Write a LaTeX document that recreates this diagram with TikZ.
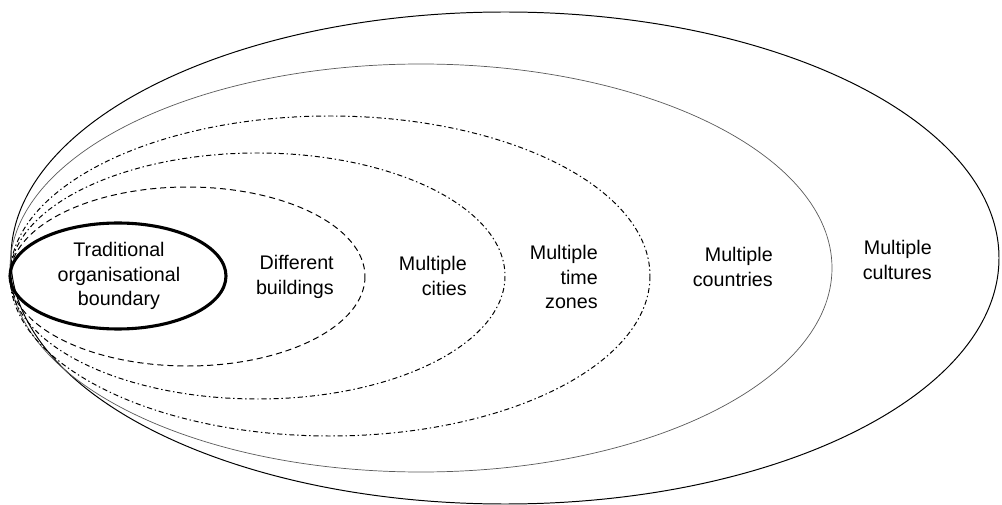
\documentclass[tikz,border=0pt]{standalone}
\usepackage{fontspec}
\setmainfont{Liberation Sans}
\tikzstyle{legende} = [align=right, anchor=east, inner sep=0pt, font=\fontsize{14}{17.5}\selectfont]
\tikzstyle{epais} = [line width=2.2pt]
\tikzstyle{tirets} = [line width=0.7pt, dash pattern=on 4.3pt off 2.8pt]
\tikzstyle{mixte} = [line width=0.7pt, dash pattern=on 3.6pt off 2pt on 1pt off 2pt]
\tikzstyle{grise} = [line width=0.5pt, black!65]
\tikzstyle{fine} = [line width=0.7pt]

\begin{document}
\begin{tikzpicture}[x=0.025cm, y=-0.025cm]
        \useasboundingbox (0,0) rectangle (1002,505);

        % the nested boundaries, all touching on the left
        \draw [fine]   (505,258) ellipse [x radius=494, y radius=246];
        \draw [grise]  (421,268) ellipse [x radius=411, y radius=204];
        \draw [mixte]  (330,276) ellipse [x radius=320, y radius=160];
        \draw [mixte]  (257.5,276) ellipse [x radius=247.5, y radius=123];
        \draw [tirets] (187.5,276.5) ellipse [x radius=177.5, y radius=89.5];
        \draw [epais]  (118,276) ellipse [x radius=108, y radius=53];

        \node (trad) [legende, align=center, anchor=center] at (119,276) {Traditional\\organisational\\boundary};
        \node (bldg) [legende] at (334,277) {Different\\buildings};
        \node (city) [legende] at (467,276) {Multiple\\cities};
        \node (tzon) [legende] at (598,277) {Multiple\\time\\zones};
        \node (ctry) [legende] at (773,267) {Multiple\\countries};
        \node (cult) [legende] at (932,260) {Multiple\\cultures};

    \end{tikzpicture}
\end{document}
